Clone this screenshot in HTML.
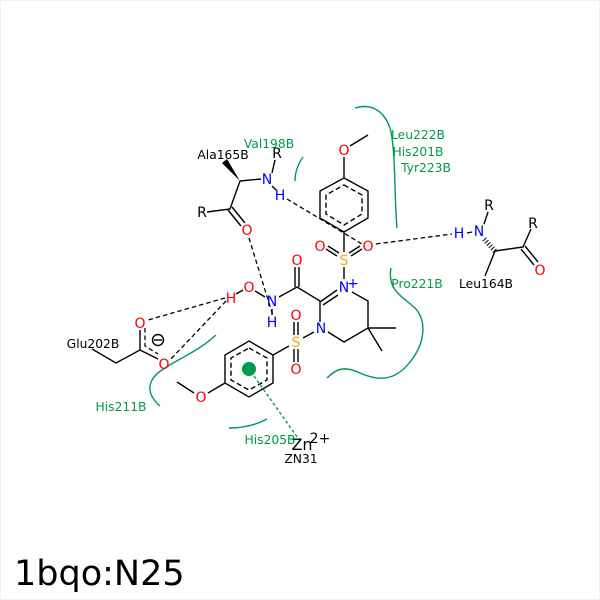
<!DOCTYPE html>
<html><head><meta charset="utf-8"><style>html,body{margin:0;padding:0;background:#fff}svg{display:block}text{font-family:"DejaVu Sans",sans-serif;font-size:12.3px;text-anchor:middle}.g{fill:#009a4d}.k{fill:#000}.o{fill:#f00;font-size:14px}.n{fill:#00f;font-size:14px}.s{fill:#f5a623;font-size:14px}</style></head><body>
<svg width="600" height="600" viewBox="0 0 600 600" xmlns="http://www.w3.org/2000/svg">
<rect x="0.5" y="0.5" width="599" height="599" fill="#fff" stroke="#f0f0f0"/>
<g fill="none" stroke="#009a4d" stroke-width="1.4">
<path d="M303 157C298 164 295 172 295 181"/>
<path d="M355 108C372 103 384 111 390 128C396 150 394 195 397 228"/>
<path d="M391 268C387 290 402 296 415 308C428 322 424 345 410 362C396 380 380 382 360 373C345 366 337 368 327 378"/>
<path d="M216 335C200 350 180 358 165 368C148 378 144 392 160 406"/>
<path d="M229 428C242 428 256 425 267 419"/>
<path d="M254 376L300 441" stroke-dasharray="3 2.5"/>
</g>
<circle cx="249" cy="369" r="7" fill="#009a4d"/>
<g fill="none" stroke="#000" stroke-width="1.4">
<path d="M344 178L368 191V218L344 232L320 218V191Z"/>
<path d="M344 185L362 195V214L344 225L326 214V195Z" stroke-dasharray="5 3"/>
<path d="M344 157V178M350 146L368 135M344 232V252M344 267V279"/>
<path d="M337 256L326 249M339 253L328 246M351 256L362 249M349 253L360 246"/>
<path d="M352 292L368 301V328L344 342L328 332M320 322V301L297 287L279 297M320 302L337 290M323 305L338 295M368 328H396M368 328L382 351"/>
<path d="M295 287V267M299 287V267"/>
<path d="M265 297L255 291M243 290L236 294M272 309V315"/>
<path d="M314 332L303 338M289 346L273 355V383L249 397L225 383V355L249 341L273 355"/>
<path d="M249 348L267 358V380L249 390L231 380V358Z" stroke-dasharray="5 3"/>
<path d="M294 335V322M298 335V322M294 349V362M298 349V362"/>
<path d="M225 383L208 393M194 393L177 382"/>
<path d="M240 181L261 179M272 173L275 160M272 186L276 190M240 181L230 209L207 212M228 210L241 226M232 207L245 223"/>
<path d="M484 224L488 212M495 251L523 247L531 229M521 249L534 265M525 246L538 262M495 251L485 276M467 233L472 232" />
<path d="M140 330V350L116 363L92 349M140 350L158 359"/>
<circle cx="158" cy="340" r="5.5"/><path d="M154 340H162"/>
</g>
<path d="M240 181L222 163L227 159Z" fill="#000"/>
<path d="M495 251L483 238" fill="none" stroke="#000" stroke-width="5" stroke-dasharray="1 2"/>
<g fill="none" stroke="#000" stroke-width="1.3" stroke-dasharray="4.5 3">
<path d="M287 199L362 244"/>
<path d="M376 244L452 234"/>
<path d="M249 238L273 316"/>
<path d="M225 298L148 320"/>
<path d="M226 301L169 361"/>
<path d="M145 328V346L158 354"/>
</g>
<g class="k">
<text x="223" y="159" class="k">Ala165B</text>
<text x="277" y="158" class="k" style="font-size:14px">R</text>
<text x="202" y="217" class="k" style="font-size:14px">R</text>
<text x="489" y="210" class="k" style="font-size:14px">R</text>
<text x="533" y="228" class="k" style="font-size:14px">R</text>
<text x="486" y="288" class="k">Leu164B</text>
<text x="93" y="348" class="k">Glu202B</text>
<text x="302" y="450" class="k" style="font-size:16px">Zn</text>
<text x="320" y="443" class="k" style="font-size:14px">2+</text>
<text x="301" y="463" class="k">ZN31</text>
</g>
<g>
<text x="344" y="155" class="o">O</text>
<text x="320" y="251" class="o">O</text>
<text x="368" y="251" class="o">O</text>
<text x="344" y="265" class="s">S</text>
<text x="344" y="292" class="n">N</text>
<text x="353" y="288" class="n">+</text>
<text x="297" y="265" class="o">O</text>
<text x="272" y="306" class="n">N</text>
<text x="272" y="327" class="n">H</text>
<text x="249" y="292" class="o">O</text>
<text x="231" y="303" class="o">H</text>
<text x="321" y="333" class="n">N</text>
<text x="296" y="347" class="s">S</text>
<text x="296" y="320" class="o">O</text>
<text x="296" y="374" class="o">O</text>
<text x="201" y="402" class="o">O</text>
<text x="267" y="184" class="n">N</text>
<text x="280" y="200" class="n">H</text>
<text x="247" y="235" class="o">O</text>
<text x="479" y="236" class="n">N</text>
<text x="459" y="238" class="n">H</text>
<text x="540" y="275" class="o">O</text>
<text x="140" y="328" class="o">O</text>
<text x="164" y="369" class="o">O</text>
</g>
<g>
<text x="269" y="148" class="g">Val198B</text>
<text x="418" y="139" class="g">Leu222B</text>
<text x="418" y="156" class="g">His201B</text>
<text x="426" y="172" class="g">Tyr223B</text>
<text x="417" y="288" class="g">Pro221B</text>
<text x="121" y="411" class="g">His211B</text>
<text x="270" y="444" class="g">His205B</text>
</g>
<text x="14" y="585" style="font-size:35px;text-anchor:start;fill:#000">1bqo:N25</text>
</svg></body></html>
